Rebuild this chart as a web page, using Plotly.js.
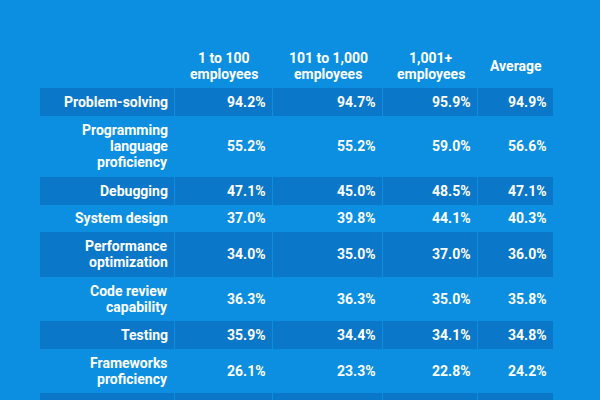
<!DOCTYPE html>
<html><head><meta charset="utf-8">
<script src="https://cdn.plot.ly/plotly-3.0.1.min.js"></script>
<style>html,body{margin:0;padding:0;background:#0c8fe0;overflow:hidden}#chart{width:600px;height:400px}</style>
</head><body><div id="chart"></div>
<script>
// ---- data ----
const columns = ['1 to 100<br>employees', '101 to 1,000<br>employees', '1,001+<br>employees', 'Average'];
const skills = ['Problem-solving', 'Programming<br>language<br>proficiency', 'Debugging', 'System design',
  'Performance<br>optimization', 'Code review<br>capability', 'Testing', 'Frameworks<br>proficiency', ''];
const small = [94.2, 55.2, 47.1, 37.0, 34.0, 36.3, 35.9, 26.1, null];
const mid = [94.7, 55.2, 45.0, 39.8, 35.0, 36.3, 34.4, 23.3, null];
const large = [95.9, 59.0, 48.5, 44.1, 37.0, 35.0, 34.1, 22.8, null];
const average = [94.9, 56.6, 47.1, 40.3, 36.0, 35.8, 34.8, 24.2, null];

// ---- layout / style ----
const BG = '#0c8fe0';
const DARK = '#0a77c9';
const colWidths = [135, 98, 110, 95, 76];
const headerH = 44, lineH = 17, rowPad = 10.5, textLine = 16;
const FONT = {family: 'Roboto, sans-serif', size: 14, color: '#ffffff', weight: 'bold'};

const series = [small, mid, large, average];
const xEdges = [0];
colWidths.forEach(w => xEdges.push(xEdges[xEdges.length - 1] + w));
const rowHeights = [headerH].concat(skills.map(s => rowPad + lineH * s.split('<br>').length));
const yEdges = [0];
rowHeights.forEach(h => yEdges.push(yEdges[yEdges.length - 1] + h));
const z = rowHeights.map((h, r) => colWidths.map(() => r % 2));

const ann = [];
const fmt = v => (v == null ? '' : v.toFixed(1) + '%');
// multi-line text: one annotation per line, so the line spacing can be set
function addLines(text, x, y, xanchor, xshift) {
  const lines = text.split('<br>');
  lines.forEach((t, k) => {
    ann.push({x: x, y: y, text: t, xanchor: xanchor, align: xanchor, yanchor: 'middle',
      xshift: xshift, yshift: -(k - (lines.length - 1) / 2) * textLine});
  });
}
columns.forEach((c, i) => {
  addLines(c, (xEdges[i + 1] + xEdges[i + 2]) / 2, (yEdges[0] + yEdges[1]) / 2, 'center', 0);
});
skills.forEach((s, r) => {
  const yc = (yEdges[r + 1] + yEdges[r + 2]) / 2;
  if (s) addLines(s, xEdges[1], yc, 'right', -5);
  series.forEach((arr, i) => {
    if (arr[r] != null) addLines(fmt(arr[r]), xEdges[i + 2], yc, 'right', -5);
  });
});
ann.forEach(a => { a.xref = 'x'; a.yref = 'y'; a.showarrow = false; a.font = FONT; });

const trace = {
  type: 'heatmap', x: xEdges, y: yEdges, z: z,
  colorscale: [[0, BG], [1, DARK]], zmin: 0, zmax: 1, showscale: false,
  xgap: 1, ygap: 0, hoverinfo: 'skip'
};

const layout = {
  width: 600, height: 400,
  margin: {l: 40, r: 46, t: 44, b: 0, pad: 0},
  paper_bgcolor: BG, plot_bgcolor: BG,
  xaxis: {range: [0, xEdges[xEdges.length - 1]], visible: false, fixedrange: true},
  yaxis: {range: [356, 0], visible: false, fixedrange: true},
  annotations: ann, showlegend: false, hovermode: false
};
Plotly.newPlot('chart', [trace], layout, {displayModeBar: false, staticPlot: true});
</script></body></html>
